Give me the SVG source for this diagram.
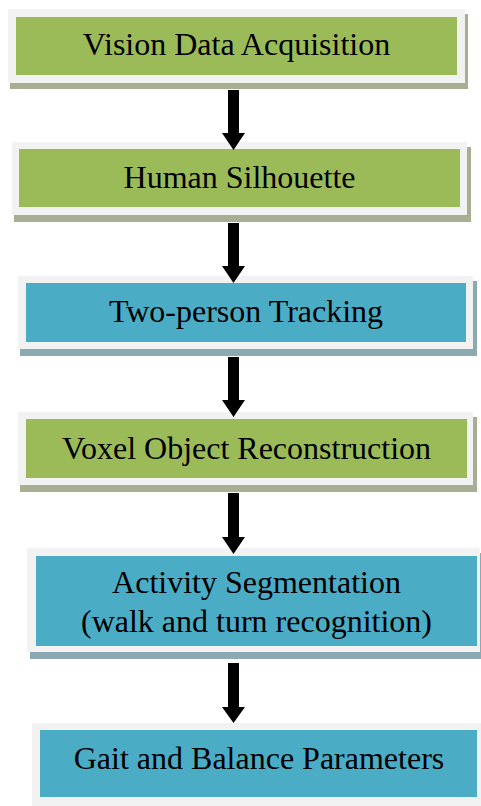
<svg xmlns="http://www.w3.org/2000/svg" width="481" height="806" viewBox="0 0 481 806">
<defs>
<style>
.frame{fill:#f2f2f2}
.g{fill:#9bbb59}
.b{fill:#4bacc6}
.gs{fill:#a7ae91}
.bs{fill:#8ba9b0}
.t{font-size:32px;fill:#000;text-anchor:middle}
.arrow{fill:#000}
</style>
</defs>
<rect width="481" height="806" fill="#fff"/>
<g font-family="Liberation Serif, Times New Roman, serif">
<g id="n1">
<rect class="gs" x="10" y="14" width="458" height="75"/>
<rect class="frame" x="8" y="9" width="457" height="74"/>
<rect class="g" x="16" y="17" width="441" height="58"/>
<text class="t" x="236.5" y="55">Vision Data Acquisition</text>
</g>
<g id="n2">
<rect class="gs" x="14" y="147" width="457" height="75"/>
<rect class="frame" x="12" y="142" width="455" height="73"/>
<rect class="g" x="19" y="149" width="441" height="58"/>
<text class="t" x="239.5" y="188">Human Silhouette</text>
</g>
<g id="n3">
<rect class="bs" x="20" y="281" width="457" height="75"/>
<rect class="frame" x="18" y="276" width="455" height="73"/>
<rect class="b" x="26" y="283" width="440" height="59"/>
<text class="t" x="246" y="322">Two-person Tracking</text>
</g>
<g id="n4">
<rect class="gs" x="20" y="417" width="457" height="75"/>
<rect class="frame" x="18" y="412" width="455" height="73"/>
<rect class="g" x="26" y="419" width="441" height="59"/>
<text class="t" x="246.5" y="459">Voxel Object Reconstruction</text>
</g>
<g id="n5">
<rect class="bs" x="30" y="553" width="451" height="106"/>
<rect class="frame" x="27" y="548" width="453" height="104"/>
<rect class="b" x="36" y="556" width="441" height="90"/>
<text class="t" x="256.5" y="593">Activity Segmentation</text>
<text class="t" x="256.5" y="632">(walk and turn recognition)</text>
</g>
<g id="n6">
<rect class="frame" x="32" y="723" width="449" height="83"/>
<rect class="b" x="40" y="730" width="437" height="67"/>
<text class="t" x="259" y="769">Gait and Balance Parameters</text>
</g>
</g>
<g id="connectors">
<polygon class="arrow" points="228,90 239,90 239,133 245,133 233.5,150 222,133 228,133"/>
<polygon class="arrow" points="228,223 239,223 239,266 245,266 233.5,283 222,266 228,266"/>
<polygon class="arrow" points="228,357 239,357 239,400 245,400 233.5,417 222,400 228,400"/>
<polygon class="arrow" points="228,493 239,493 239,537 245,537 233.5,554 222,537 228,537"/>
<polygon class="arrow" points="228,663 239,663 239,707 245,707 233.5,723 222,707 228,707"/>
</g>
</svg>
